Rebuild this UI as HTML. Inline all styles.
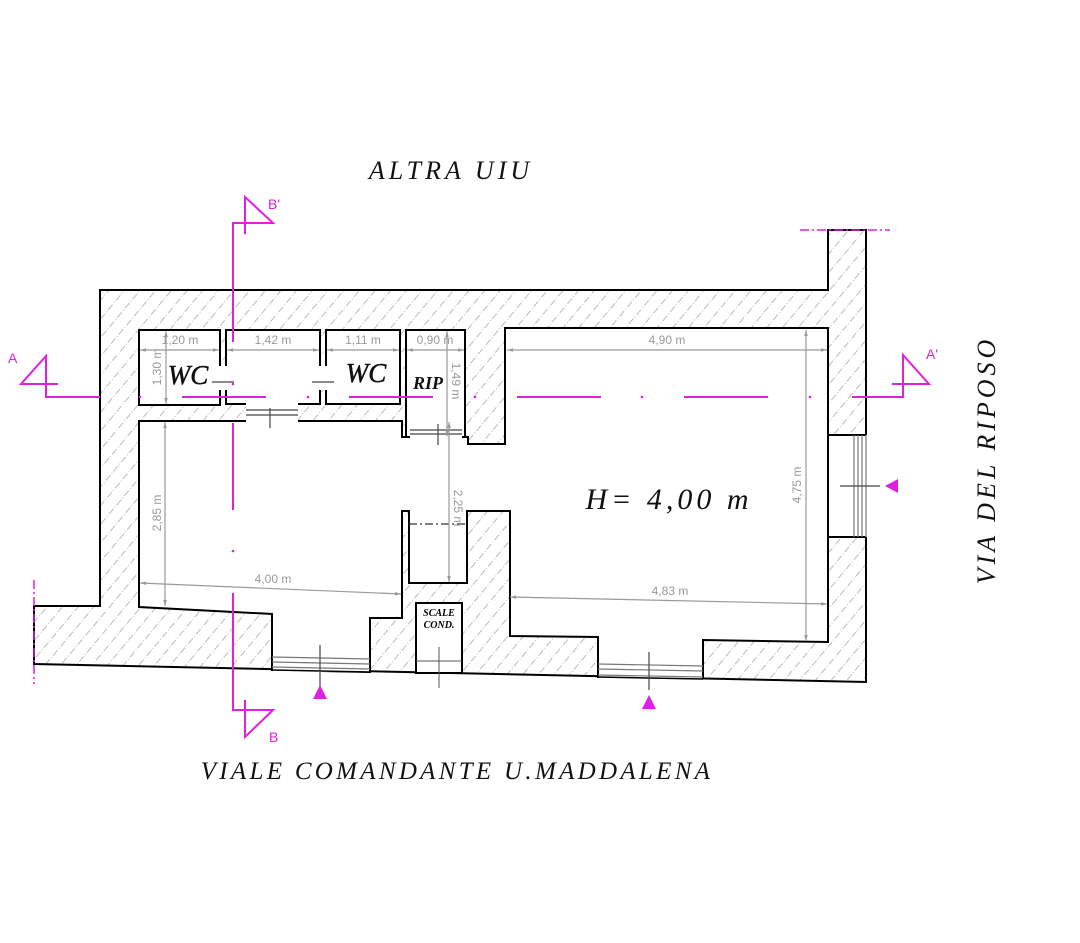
<!DOCTYPE html>
<html><head><meta charset="utf-8"><style>
html,body{margin:0;padding:0;background:#fff}
svg{display:block}
.t{font-family:"Liberation Serif",serif;font-style:italic;fill:#111}
.d{font-family:"Liberation Sans",sans-serif;font-size:12px;fill:#999}
</style></head><body>
<svg width="1080" height="943" viewBox="0 0 1080 943" xmlns="http://www.w3.org/2000/svg">
<defs>
<pattern id="h" width="12" height="12" patternUnits="userSpaceOnUse" patternTransform="rotate(-50)">
<rect width="12" height="12" fill="#fff"/>
<line x1="0" y1="6" x2="12" y2="6" stroke="#bbb" stroke-width="1" stroke-dasharray="7 2 1 2"/>
</pattern>
<marker id="ar" viewBox="0 0 10 10" refX="10" refY="5" markerWidth="7" markerHeight="5" orient="auto-start-reverse"><path d="M0,2 L10,5 L0,8z" fill="#999"/></marker>
</defs>

<polygon points="100,290 828,290 828,230 866,230 866,682 34,664 34,606 100,606" fill="url(#h)" stroke="#000" stroke-width="2"/>
<rect x="828" y="435" width="39" height="102" fill="#fff"/>
<line x1="828" y1="435" x2="866" y2="435" stroke="#000" stroke-width="2"/>
<line x1="828" y1="537" x2="866" y2="537" stroke="#000" stroke-width="2"/>
<g stroke="#777" stroke-width="1.2"><line x1="854" y1="435" x2="854" y2="537"/><line x1="858" y1="435" x2="858" y2="537"/><line x1="862" y1="435" x2="862" y2="537"/><line x1="866" y1="435" x2="866" y2="537"/></g>

<polygon points="139,421 402,421 402,437 468,437 468,444 505,444 505,328 828,328 828,642 703,640 703,677 598,677 598,637 510,636 510,511 467,511 467,583 409,583 409,511 402,511 402,618 370,618 370,672 272,670 272,614 139,607" fill="#fff" stroke="#000" stroke-width="2"/>
<rect x="273" y="650" width="96" height="22" fill="#fff"/>
<rect x="599" y="655" width="103" height="24" fill="#fff"/>
<g stroke="#777" stroke-width="1.2">
<line x1="272" y1="657" x2="370" y2="659"/><line x1="272" y1="662" x2="370" y2="664"/><line x1="272" y1="667" x2="370" y2="669"/>
<line x1="598" y1="664" x2="703" y2="666"/><line x1="598" y1="669" x2="703" y2="671"/><line x1="598" y1="675" x2="703" y2="677"/>
</g>
<line x1="272" y1="670" x2="370" y2="672" stroke="#000" stroke-width="1.5"/>
<line x1="598" y1="677" x2="703" y2="679" stroke="#000" stroke-width="1.5"/>
<line x1="409" y1="524" x2="467" y2="524" stroke="#333" stroke-width="1.2" stroke-dasharray="8 3 2 3"/>
<rect x="416" y="603" width="46" height="70" fill="#fff" stroke="#000" stroke-width="2"/>
<line x1="416" y1="661" x2="462" y2="661" stroke="#555"/>
<line x1="439" y1="647" x2="439" y2="688" stroke="#555"/>
<text x="439" y="616" font-family="Liberation Serif,serif" font-weight="bold" font-style="italic" font-size="10" text-anchor="middle">SCALE</text>
<text x="439" y="628" font-family="Liberation Serif,serif" font-weight="bold" font-style="italic" font-size="10" text-anchor="middle">COND.</text>

<g fill="#fff" stroke="#000" stroke-width="2">
<rect x="139" y="330" width="81" height="75"/>
<rect x="226" y="330" width="94" height="74"/>
<rect x="326" y="330" width="74" height="74"/>
<rect x="406" y="330" width="59" height="107"/>
</g>
<g fill="#fff">
<rect x="219" y="366" width="8" height="24"/>
<rect x="319" y="366" width="8" height="24"/>
<rect x="246" y="403" width="52" height="19"/>
<rect x="410" y="426" width="52" height="12"/>
</g>
<g stroke="#444" stroke-width="1.2">
<line x1="212" y1="382" x2="234" y2="382"/>
<line x1="312" y1="382" x2="334" y2="382"/>
<line x1="246" y1="410" x2="298" y2="410"/><line x1="246" y1="415" x2="298" y2="415"/>
<line x1="270" y1="408" x2="270" y2="428"/>
<line x1="410" y1="430" x2="462" y2="430"/><line x1="410" y1="434" x2="462" y2="434"/>
<line x1="438" y1="424" x2="438" y2="445"/>
<line x1="320" y1="645" x2="320" y2="688"/>
<line x1="649" y1="652" x2="649" y2="690"/>
<line x1="840" y1="486" x2="880" y2="486"/>
</g>

<g stroke="#999" stroke-width="1.2" marker-start="url(#ar)" marker-end="url(#ar)">
<line x1="140" y1="350" x2="219" y2="350"/>
<line x1="227" y1="350" x2="319" y2="350"/>
<line x1="327" y1="350" x2="399" y2="350"/>
<line x1="407" y1="350" x2="464" y2="350"/>
<line x1="507" y1="350" x2="827" y2="350"/>
<line x1="166" y1="331" x2="166" y2="404"/>
<line x1="447" y1="331" x2="447" y2="436"/>
<line x1="806" y1="330" x2="806" y2="641"/>
<line x1="510" y1="597" x2="827" y2="604"/>
<line x1="140" y1="583" x2="401" y2="594"/>
<line x1="165" y1="422" x2="165" y2="606"/>
<line x1="449" y1="422" x2="449" y2="582"/>
</g>
<g class="d">
<text x="180" y="344" text-anchor="middle">1,20 m</text>
<text x="273" y="344" text-anchor="middle">1,42 m</text>
<text x="363" y="344" text-anchor="middle">1,11 m</text>
<text x="435" y="344" text-anchor="middle">0,90 m</text>
<text x="667" y="344" text-anchor="middle">4,90 m</text>
<text x="670" y="595" text-anchor="middle">4,83 m</text>
<text x="273" y="583" text-anchor="middle">4,00 m</text>
<text transform="translate(161,367) rotate(-90)" text-anchor="middle">1,30 m</text>
<text transform="translate(161,513) rotate(-90)" text-anchor="middle">2,85 m</text>
<text transform="translate(801,485) rotate(-90)" text-anchor="middle">4,75 m</text>
<text transform="translate(452,381) rotate(90)" text-anchor="middle">1,49 m</text>
<text transform="translate(454,508) rotate(90)" text-anchor="middle">2,25 m</text>
</g>

<text class="t" x="188" y="384" font-size="27" text-anchor="middle" stroke="#111" stroke-width="0.5">WC</text>
<text class="t" x="366" y="382" font-size="27" text-anchor="middle" stroke="#111" stroke-width="0.5">WC</text>
<text class="t" x="428" y="389" font-size="18" font-weight="bold" text-anchor="middle">RIP</text>
<text class="t" x="669" y="509" font-size="30" text-anchor="middle" letter-spacing="4">H=  4,00  m</text>

<text class="t" x="451" y="179" font-size="26" text-anchor="middle" letter-spacing="4">ALTRA  UIU</text>
<text class="t" x="457" y="779" font-size="25" text-anchor="middle" letter-spacing="3.3">VIALE COMANDANTE U.MADDALENA</text>
<text class="t" transform="translate(995,460) rotate(-90)" font-size="26" text-anchor="middle" letter-spacing="4">VIA  DEL  RIPOSO</text>

<g stroke="#e020e0" stroke-width="2" fill="none">
<polyline points="100,397 46,397 46,356 21,384 58,384"/>
<polyline points="852,397 903,397 903,355 929,384 892,384"/>
<polyline points="233,342 233,223 273,223 245,197 245,234"/>
<polyline points="233,593 233,710 273,710 245,737 245,700"/>
<line x1="233" y1="423" x2="233" y2="510"/>
<line x1="182" y1="397" x2="266" y2="397"/>
<line x1="349" y1="397" x2="433" y2="397"/>
<line x1="517" y1="397" x2="601" y2="397"/>
<line x1="684" y1="397" x2="768" y2="397"/>
<line x1="800" y1="230" x2="890" y2="230" stroke-width="1.5" stroke-dasharray="9 3 2 3"/>
<line x1="34" y1="580" x2="34" y2="684" stroke-width="1.5" stroke-dasharray="9 3 2 3"/>
</g>
<g fill="#e020e0">
<circle cx="140" cy="397" r="1.3"/><circle cx="308" cy="397" r="1.3"/><circle cx="475" cy="397" r="1.3"/>
<circle cx="642" cy="397" r="1.3"/><circle cx="810" cy="397" r="1.3"/><circle cx="233" cy="384" r="1.3"/><circle cx="233" cy="551" r="1.3"/>
<polygon points="320,685 327,699 313,699"/>
<polygon points="649,695 656,709 642,709"/>
<polygon points="885,486 898,479 898,493"/>
</g>
<g font-family="Liberation Sans,sans-serif" font-size="14" fill="#e020e0">
<text x="8" y="363">A</text><text x="926" y="359">A'</text>
<text x="268" y="209">B'</text><text x="269" y="742">B</text>
</g>
</svg>
</body></html>
